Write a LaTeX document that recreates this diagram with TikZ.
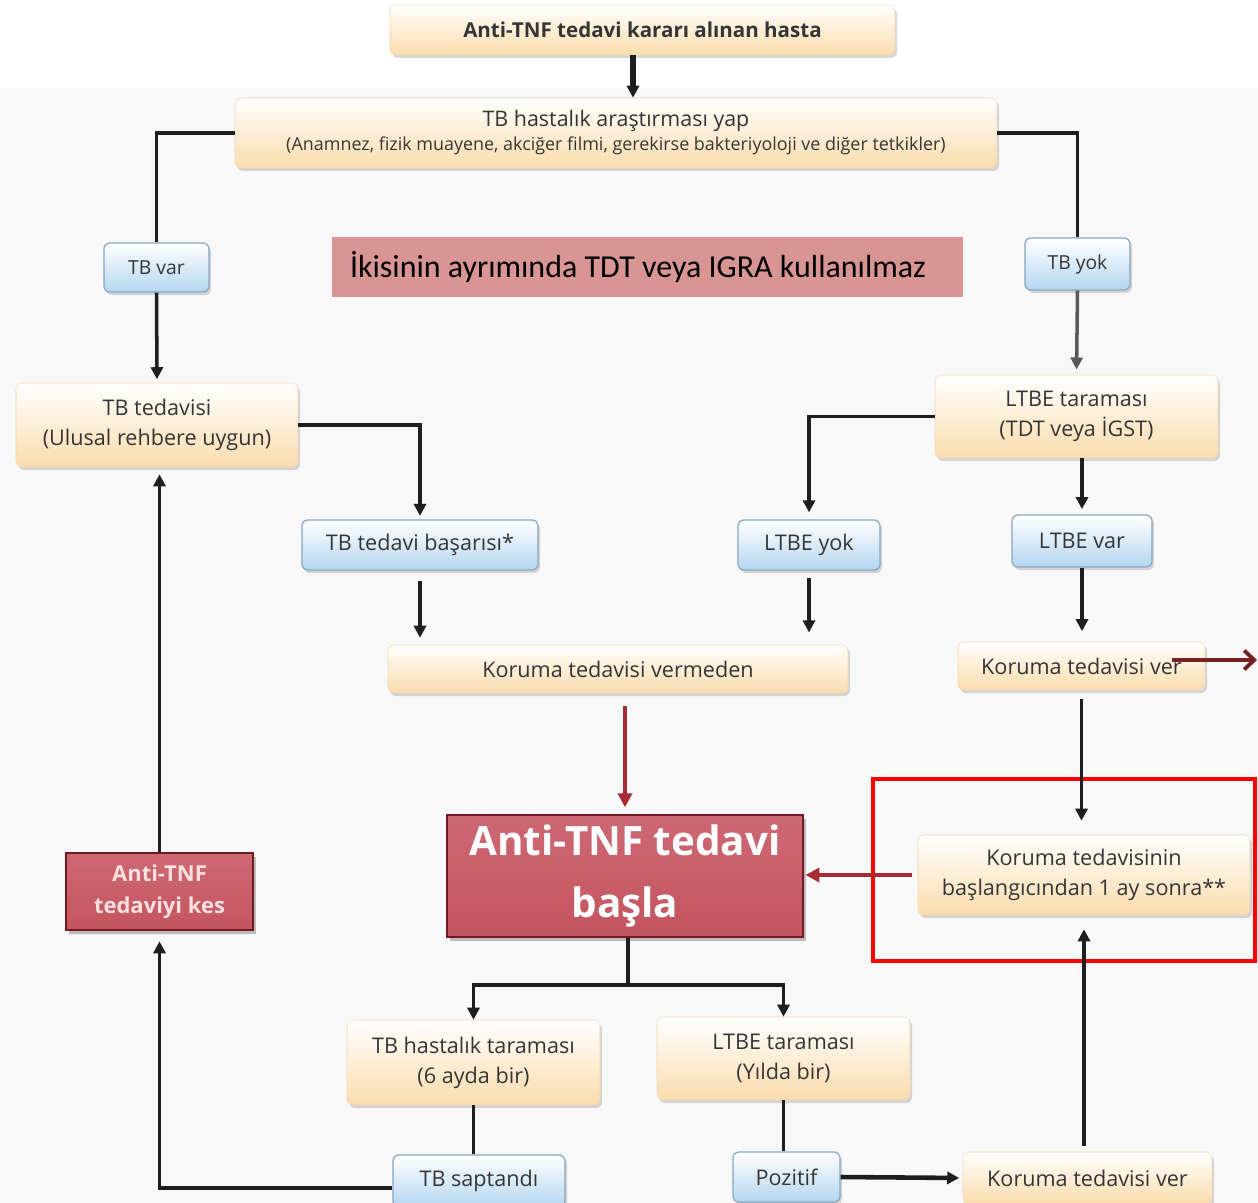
\documentclass[tikz,border=0pt]{standalone}
\usepackage{fontspec}
\setmainfont{Open Sans}
\newfontfamily\calib{Carlito}
\usetikzlibrary{arrows.meta,shadows}
\definecolor{txt}{HTML}{353535}
\definecolor{creamB}{RGB}{250,220,172}
\definecolor{creamD}{RGB}{240,215,180}
\definecolor{blueB}{RGB}{180,214,240}
\definecolor{blueD}{RGB}{135,165,192}
\definecolor{redT}{RGB}{205,105,115}
\definecolor{redM}{RGB}{178,52,64}
\definecolor{redB}{RGB}{196,84,95}
\definecolor{redD}{RGB}{115,25,35}
\definecolor{arrred}{RGB}{168,42,52}
\definecolor{darkred}{RGB}{118,34,34}
\definecolor{pinkbg}{RGB}{217,149,148}
\definecolor{bgc}{RGB}{248,248,248}
\definecolor{lnc}{RGB}{30,30,30}
\tikzset{
  sz/.style 2 args={minimum width=#1*0.02cm, minimum height=#2*0.02cm},
  base/.style={rounded corners=0.12cm, inner sep=0pt, align=center, text=txt,
    font=\fontsize{12.3}{17}\selectfont,
    drop shadow={shadow xshift=0.04cm, shadow yshift=-0.06cm, opacity=0.25, fill=black!60}},
  cream/.style={base, top color=white, bottom color=creamB, draw=creamD, line width=0.3pt},
  bluebox/.style={base, top color=white, bottom color=blueB, draw=blueD, line width=0.7pt},
  redbox/.style={inner sep=0pt, align=center, text=white, top color=redT, middle color=redM,
    bottom color=redB, draw=redD, line width=0.8pt,
    drop shadow={shadow xshift=0.05cm, shadow yshift=-0.07cm, opacity=0.35, fill=black!70}},
  ln/.style={draw=lnc, line width=2pt},
  arr/.style={ln, -{Triangle[length=0.24cm, width=0.24cm]}},
  rarr/.style={draw=arrred, line width=2.3pt, -{Triangle[length=0.28cm, width=0.28cm]}},
}
\begin{document}
\begin{tikzpicture}[x=0.02cm, y=-0.02cm]
\useasboundingbox (0,0) rectangle (1258,1203);
\fill[bgc] (0,88) rectangle (1258,1203);
\fill[white] (0,0) rectangle (1258,88);

% nodes
\node[cream, sz={505}{50}, font=\bfseries\fontsize{11.7}{14}\selectfont] (top) at (642.5,30) {Anti-TNF tedavi kararı alınan hasta};
\node[cream, sz={762}{70}, font=\fontsize{12.2}{14}\selectfont, text depth=0.1cm] (arast) at (616,133)
  {TB hastalık araştırması yap\\{\fontsize{10.2}{12}\selectfont (Anamnez, fizik muayene, akciğer filmi, gerekirse bakteriyoloji ve diğer tetkikler)}};
\node[bluebox, sz={105}{49}, font=\fontsize{11}{13}\selectfont] (tbvar) at (156.5,267.5) {TB var};
\node[bluebox, sz={105}{52}, font=\fontsize{11}{13}\selectfont] (tbyok) at (1077.5,264) {TB yok};
\node[fill=pinkbg, sz={631}{60}, inner xsep=18*0.02cm, inner ysep=0pt, text width=595*0.02cm, align=flush left,
  font=\calib\fontsize{18.2}{20}\selectfont, text=black] (note) at (647.5,267) {İkisinin ayrımında TDT veya IGRA kullanılmaz};
\node[cream, sz={282}{84}] (tbted) at (157,425) {TB tedavisi\\(Ulusal rehbere uygun)};
\node[cream, sz={283}{83}] (ltbe1) at (1076.5,416.5) {LTBE taraması\\(TDT veya İGST)};
\node[bluebox, sz={236}{50}] (basari) at (420,545) {TB tedavi başarısı*};
\node[bluebox, sz={142}{50}] (ltbeyok) at (809,545) {LTBE yok};
\node[bluebox, sz={140}{52}] (ltbevar) at (1082,541) {LTBE var};
\node[cream, sz={460}{48}] (vermeden) at (618,669) {Koruma tedavisi vermeden};
\node[cream, sz={247}{48}] (ver1) at (1081.5,666) {Koruma tedavisi ver};
\node[redbox, sz={356}{122}, font=\bfseries\fontsize{23}{35}\selectfont] (basla) at (625,876) {Anti-TNF tedavi\\başla};
\node[cream, sz={332}{80}] (sonra) at (1084,875) {Koruma tedavisinin\\başlangıcından 1 ay sonra**};
\node[redbox, sz={187}{77}, text=white!88!red, font=\bfseries\fontsize{12.5}{18}\selectfont] (kes) at (159.5,891.5) {Anti-TNF\\tedaviyi kes};
\node[cream, sz={253}{85}] (tbtar) at (473.5,1062.5) {TB hastalık taraması\\(6 ayda bir)};
\node[cream, sz={253}{83}] (ltbe2) at (783.5,1058.5) {LTBE taraması\\(Yılda bir)};
\node[bluebox, sz={172}{52}] (saptandi) at (479,1181) {TB saptandı};
\node[bluebox, sz={107}{50}] (pozitif) at (786.5,1177) {Pozitif};
\node[cream, sz={249}{52}] (ver2) at (1087.5,1178) {Koruma tedavisi ver};
\node[draw=red, line width=2.8pt, sz={382}{182}] (hl) at (1064,870) {};

% connectors
\coordinate (ta) at (633,60);
\draw[arr, line width=3.2pt] (top.south -| ta) -- (arast.north -| ta);
\draw[ln] (arast.west) -| (tbvar.north);
\draw[arr, shorten >=2pt] (tbvar.south) -- (tbted.north);
\draw[ln] (arast.east) -| (tbyok.north);
\draw[arr, draw=black!65, shorten >=3pt] (tbyok.south) -- (ltbe1.north);
\draw[arr, shorten >=2pt] (tbted.east) -| (basari.north);
\draw[arr, shorten >=4pt] (ltbe1.west) -| (ltbeyok.north);
\draw[arr, shorten >=3pt] (ltbe1.south -| ltbevar.north) -- (ltbevar.north);
\draw[arr, shorten <=6pt, shorten >=4pt] (basari.south) -- (basari.south |- vermeden.north);
\draw[arr, shorten <=4pt, shorten >=7pt] (ltbeyok.south) -- (ltbeyok.south |- vermeden.north);
\draw[arr, shorten >=6pt] (ltbevar.south) -- (ltbevar.south |- ver1.north);
\draw[rarr, shorten <=7pt, shorten >=4pt] (vermeden.south -| basla.north) -- (basla.north);
\draw[arr, shorten <=5pt, shorten >=8pt] (ver1.south) -- (ver1.south |- sonra.north);
\draw[rarr, shorten <=3pt, shorten >=1pt] (sonra.west) -- (sonra.west -| basla.east);
\coordinate (rs) at (1172,660);
\coordinate (rt) at (1257,660);
\draw[darkred, line width=2.2pt, -{Straight Barb[length=0.2cm, width=0.38cm]}] (rs) -- (rt);
\draw[arr, shorten >=4pt] (kes.north) -- (kes.north |- tbted.south);
\coordinate (br) at (628,985);
\draw[ln] (basla.south -| br) -- (br);
\draw[arr] (br) -| (tbtar.north);
\draw[arr] (br) -| (ltbe2.north);
\draw[ln] (tbtar.south) -- (tbtar.south |- saptandi.north);
\draw[ln] (ltbe2.south) -- (ltbe2.south |- pozitif.north);
\draw[arr, line width=2.6pt, shorten >=2pt] (pozitif.east) -- (ver2.west);
\draw[arr, shorten <=3pt, shorten >=8pt] (ver2.north -| sonra.south) -- (sonra.south);
\draw[arr, shorten >=6pt] ([yshift=-0.14cm]saptandi.west) -| (kes.south);
\end{tikzpicture}
\end{document}
